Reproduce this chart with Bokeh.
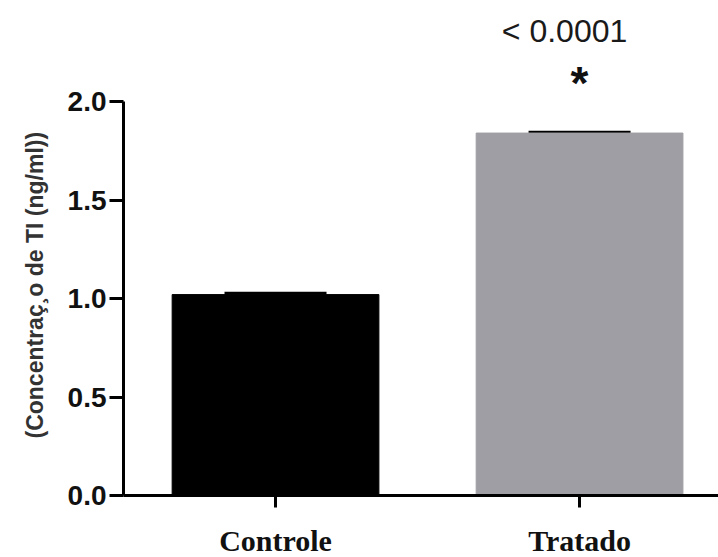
from bokeh.plotting import figure
from bokeh.models import Range1d, FixedTicker, PrintfTickFormatter, Whisker, TeeHead, Label, Title, ColumnDataSource
from bokeh.embed import file_html
from bokeh.resources import INLINE

# ---- data ----
categories = ["Controle", "Tratado"]
means = [1.02, 1.84]
errors = [0.007, 0.004]
bar_colors = ["#000000", "#9e9ea4"]
y_ticks = [0.0, 0.5, 1.0, 1.5, 2.0]
p_value_text = "< 0.0001"
sig_mark = "*"
y_title = "(Concentraç¸o de TI (ng/ml))"

xpos = [i + 0.5 for i in range(len(categories))]
src = ColumnDataSource(dict(
    x=xpos, top=means, color=bar_colors,
    upper=[m + e for m, e in zip(means, errors)],
    lower=[m - e for m, e in zip(means, errors)],
))

p = figure(frame_width=595, frame_height=495,
           x_range=Range1d(0, 1.957), y_range=Range1d(0, 2.513),
           output_backend="svg", toolbar_location=None,
           min_border_left=123, min_border_right=0,
           min_border_top=0, min_border_bottom=62)
p.outline_line_color = None
p.xgrid.visible = False
p.ygrid.visible = False
p.background_fill_color = "white"
p.border_fill_color = "white"

p.vbar(x="x", top="top", width=0.68, color="color", line_color="color", source=src)

wh = Whisker(base="x", upper="upper", lower="lower", source=src,
             line_color="black", line_width=3,
             upper_head=TeeHead(size=102, line_width=3, line_color="black"),
             lower_head=None)
p.add_layout(wh)

# axes
for ax in (p.xaxis[0], p.yaxis[0]):
    ax.axis_line_width = 3
    ax.axis_line_color = "black"
    ax.major_tick_line_width = 3
    ax.major_tick_line_color = "black"
    ax.major_tick_in = 0
    ax.minor_tick_line_color = None

p.yaxis.bounds = (0, 2)
p.yaxis.ticker = FixedTicker(ticks=y_ticks)
p.yaxis.formatter = PrintfTickFormatter(format="%.1f")
p.yaxis.major_tick_out = 14
p.yaxis.major_label_standoff = 3
p.yaxis.major_label_text_font = "Liberation Sans"
p.yaxis.major_label_text_font_style = "bold"
p.yaxis.major_label_text_font_size = "28px"
p.yaxis.major_label_text_color = "#111111"

p.add_layout(Title(text=y_title, align="left", offset=57, standoff=34,
                   text_font="Liberation Sans", text_font_style="bold",
                   text_font_size="23px", text_color="#333333"), "left")

p.xaxis.ticker = FixedTicker(ticks=xpos)
p.xaxis.major_label_overrides = {x: c for x, c in zip(xpos, categories)}
p.xaxis.major_tick_out = 12
p.xaxis.major_label_standoff = 16
p.xaxis.major_label_text_font = "Liberation Serif"
p.xaxis.major_label_text_font_style = "bold"
p.xaxis.major_label_text_font_size = "30px"
p.xaxis.major_label_text_color = "#111111"

# significance annotation above Tratado
p.add_layout(Label(x=xpos[1], y=2.36, x_offset=-15, text=p_value_text,
                   text_align="center", text_baseline="alphabetic",
                   text_font="Liberation Sans", text_font_size="32px",
                   text_color="#1a1a1a"))
p.add_layout(Label(x=xpos[1], y=2.095, text=sig_mark,
                   text_align="center", text_baseline="alphabetic",
                   text_font="Liberation Sans", text_font_style="bold",
                   text_font_size="46px", text_color="#111111"))

open("out.html", "w").write(file_html(p, INLINE))
